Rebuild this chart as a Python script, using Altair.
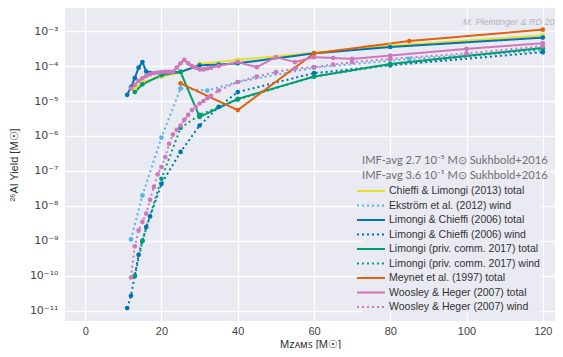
import altair as alt
import pandas as pd

# ---------------- data ----------------
series_names = [
    "Chieffi & Limongi (2013) total",
    "Ekström et al. (2012) wind",
    "Limongi & Chieffi (2006) total",
    "Limongi & Chieffi (2006) wind",
    "Limongi (priv. comm. 2017) total",
    "Limongi (priv. comm. 2017) wind",
    "Meynet et al. (1997) total",
    "Woosley & Heger (2007) total",
    "Woosley & Heger (2007) wind",
]

cl13_mass = [13, 15, 20, 25, 30, 40, 60, 80, 120]
cl13_total = [2.2e-5, 3.5e-5, 5.0e-5, 6.5e-5, 1.15e-4, 1.5e-4, 2.4e-4, 3.8e-4, 7.5e-4]

ek12_mass = [12, 15, 20, 25, 32, 40, 60, 85, 120]
ek12_wind = [1.1e-9, 2.0e-8, 9.0e-7, 2.3e-5, 2.0e-5, 3.5e-5, 9.0e-5, 1.6e-4, 2.8e-4]

lc06_mass = [11, 12, 13, 14, 15, 16, 17, 20, 25, 30, 35, 40, 60, 80, 120]
lc06_total = [1.5e-5, 2.5e-5, 4.5e-5, 9.0e-5, 1.3e-4, 7.0e-5, 6.3e-5, 6.5e-5, 6.8e-5,
              1.05e-4, 1.1e-4, 1.2e-4, 2.3e-4, 3.5e-4, 6.5e-4]
lc06_wind = [1.2e-11, 2.7e-11, 1.0e-10, 4.0e-10, 1.0e-9, 2.5e-9, 5.0e-9, 4.3e-8, 3.5e-7,
             2.0e-6, 6.8e-6, 1.8e-5, 6.3e-5, 1.05e-4, 2.5e-4]

lim17_mass = [13, 15, 20, 25, 30, 40, 60, 80, 120]
lim17_total = [1.8e-5, 3.0e-5, 5.5e-5, 6.8e-5, 3.5e-6, 1.15e-5, 5.0e-5, 1.15e-4, 3.3e-4]
lim17_wind = [1.0e-10, 1.0e-9, 6.0e-8, 1.7e-6, 4.0e-6, 1.1e-5, 5.0e-5, 1.1e-4, 3.2e-4]

mey97_mass = [25, 40, 60, 85, 120]
mey97_total = [3.2e-5, 5.5e-6, 2.3e-4, 5.2e-4, 1.1e-3]

wh07_mass = [12, 13, 14, 15, 16, 17, 18, 19, 20, 21, 22, 23, 24, 25, 26, 27, 28, 29, 30,
             31, 32, 33, 35, 40, 45, 50, 55, 60, 65, 70, 80, 100, 120]
wh07_total = [2.3e-5, 2.9e-5, 3.8e-5, 4.5e-5, 5.2e-5, 5.8e-5, 6.3e-5, 6.5e-5, 6.7e-5,
              6.8e-5, 6.8e-5, 6.8e-5, 9.0e-5, 1.2e-4, 1.5e-4, 1.2e-4, 1.0e-4, 9.0e-5,
              8.0e-5, 8.0e-5, 8.5e-5, 9.0e-5, 1.0e-4, 1.3e-4, 9.3e-5, 1.8e-4, 1.3e-4,
              1.8e-4, 1.7e-4, 1.6e-4, 2.0e-4, 3.1e-4, 4.5e-4]
wh07_wind = [9.0e-11, 7.0e-10, 2.0e-9, 3.5e-9, 6.0e-9, 1.5e-8, 3.5e-8, 8.0e-8, 1.3e-7,
             2.5e-7, 6.0e-7, 1.1e-6, 1.5e-6, 2.0e-6, 2.9e-6, 4.0e-6, 5.5e-6, 6.8e-6,
             8.5e-6, 1.0e-5, 1.2e-5, 1.4e-5, 2.0e-5, 3.5e-5, 5.0e-5, 6.7e-5, 8.5e-5,
             9.3e-5, 1.1e-4, 1.3e-4, 1.6e-4, 2.3e-4, 3.7e-4]

series_data = [
    (cl13_mass, cl13_total),
    (ek12_mass, ek12_wind),
    (lc06_mass, lc06_total),
    (lc06_mass, lc06_wind),
    (lim17_mass, lim17_total),
    (lim17_mass, lim17_wind),
    (mey97_mass, mey97_total),
    (wh07_mass, wh07_total),
    (wh07_mass, wh07_wind),
]

series_colors = ["#e6de2a", "#56b4e9", "#0173b2", "#0173b2", "#029e73", "#029e73",
                 "#e0620f", "#cc78bc", "#cc78bc"]
series_dashes = [[1, 0], [2, 3], [1, 0], [2, 3], [1, 0], [2, 3], [1, 0], [1, 0], [2, 3]]

x_ticks = [0, 20, 40, 60, 80, 100, 120]
y_ticks = [1e-3, 1e-4, 1e-5, 1e-6, 1e-7, 1e-8, 1e-9, 1e-10, 1e-11]

rows = []
for name, (ms, ys) in zip(series_names, series_data):
    for m, v in zip(ms, ys):
        rows.append({"series": name, "mass": m, "yld": v})
df = pd.DataFrame(rows)

# ---------------- chart ----------------
x_enc = alt.X("mass:Q",
              scale=alt.Scale(domain=[-5.3, 123.2], nice=False, zero=False),
              axis=alt.Axis(values=x_ticks, title="Mᴢᴀᴍꜱ [M☉]"))
y_enc = alt.Y("yld:Q",
              scale=alt.Scale(type="log", domain=[10 ** -11.29, 10 ** -2.34], nice=False),
              axis=alt.Axis(values=y_ticks, title="²⁶Al Yield [M☉]",
                            labelFont="DejaVu Sans", labelFontSize=11,
                            labelExpr="'10⁻' + (round(log(datum.value)/LN10) == -10 ? '¹⁰' : "
                                      "round(log(datum.value)/LN10) == -11 ? '¹¹' : "
                                      "['⁰','¹','²','³','⁴','⁵','⁶','⁷','⁸','⁹'][-round(log(datum.value)/LN10)])"))

legend_kw = dict(title=None, orient="none", legendX=298, legendY=175,
                 symbolType="M-2,0H2", symbolSize=196, symbolStrokeWidth=2,
                 labelFontSize=10.5, labelColor="#333333", labelFont="Liberation Sans",
                 fillColor="#eaeaf2", padding=0, rowPadding=0.5,
                 labelLimit=300, labelOffset=10)
color_enc = alt.Color("series:N",
                      scale=alt.Scale(domain=series_names, range=series_colors),
                      legend=alt.Legend(**legend_kw))
dash_enc = alt.StrokeDash("series:N",
                          scale=alt.Scale(domain=series_names, range=series_dashes),
                          legend=alt.Legend(**legend_kw))

base = alt.Chart(df)
lines = base.mark_line(strokeWidth=2, clip=True).encode(
    x=x_enc, y=y_enc, color=color_enc, strokeDash=dash_enc, detail="series:N")
points = base.mark_point(filled=True, size=22, opacity=1, clip=True).encode(
    x=x_enc, y=y_enc,
    color=alt.Color("series:N", scale=alt.Scale(domain=series_names, range=series_colors),
                    legend=None))

ann_text = ["IMF-avg 2.7 10⁻⁵ M⊙ Sukhbold+2016", "IMF-avg 3.6 10⁻⁵ M⊙ Sukhbold+2016"]
ann1 = alt.Chart(pd.DataFrame({"t": [ann_text[0]]})).mark_text(
    align="left", baseline="middle", font="Lato", fontSize=11.2, color="#707070").encode(
    x=alt.value(297), y=alt.value(153), text="t:N")
ann2 = alt.Chart(pd.DataFrame({"t": [ann_text[1]]})).mark_text(
    align="left", baseline="middle", font="Lato", fontSize=11.2, color="#707070").encode(
    x=alt.value(297), y=alt.value(168), text="t:N")
credit = alt.Chart(pd.DataFrame({"t": ["M. Pleintinger & RD 2018"]})).mark_text(
    align="left", baseline="middle", font="Liberation Sans", fontSize=9, fontStyle="italic",
    color="#b4b4bc", clip=True).encode(
    x=alt.value(398), y=alt.value(14), text="t:N")

chart = alt.layer(lines, points, ann1, ann2, credit).properties(
    width=547, height=341,
    autosize=alt.AutoSizeParams(type="fit", contains="padding"),
    padding=0,
).configure_view(fill="#eaeaf2", stroke=None).configure_axis(
    grid=True, gridColor="white", gridWidth=1.3, domain=False, ticks=False,
    labelFont="Liberation Sans", labelFontSize=11, labelColor="#444444",
    titleFont="Liberation Sans", titleFontSize=11, titleColor="#333333", titleFontWeight="normal",
).configure_axisX(labelPadding=4, titlePadding=2, titleAnchor="middle").configure_axisY(
    labelPadding=7, titlePadding=10)

chart.save("out.html", embed_options={"renderer": "svg", "actions": False})
